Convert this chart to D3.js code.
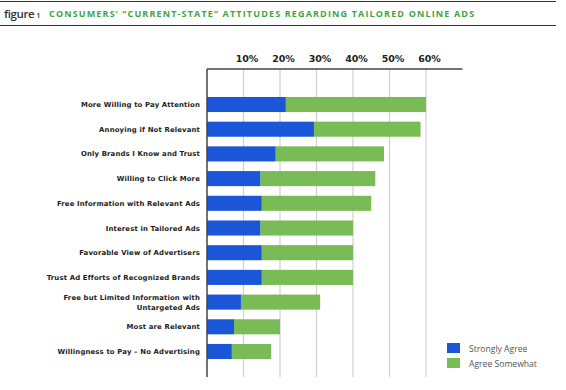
<!DOCTYPE html>
<html><head><meta charset="utf-8">
<script src="https://cdn.jsdelivr.net/npm/d3@7"></script>
<style>body{margin:0;background:#fff}svg{display:block}</style>
</head><body>
<svg id="c" width="566" height="390"></svg>
<script>
const categories = [
  "More Willing to Pay Attention",
  "Annoying if Not Relevant",
  "Only Brands I Know and Trust",
  "Willing to Click More",
  "Free Information with Relevant Ads",
  "Interest in Tailored Ads",
  "Favorable View of Advertisers",
  "Trust Ad Efforts of Recognized Brands",
  "Free but Limited Information with|Untargeted Ads",
  "Most are Relevant",
  "Willingness to Pay – No Advertising"
];
const stronglyAgree = [21.6, 29.3, 18.8, 14.6, 15.0, 14.6, 15.0, 15.0, 9.3, 7.4, 6.8];
const agreeSomewhat = [38.4, 29.2, 29.7, 31.5, 30.0, 25.4, 25.0, 25.0, 21.7, 12.6, 10.8];
const tickValues = [10, 20, 30, 40, 50, 60];
const seriesNames = ["Strongly Agree", "Agree Somewhat"];
const colors = ["#1c56d8", "#79bb55"];

const svg = d3.select("#c");
const x = d3.scaleLinear().domain([0, 70]).range([207, 462.5]);
const y = d3.scaleBand().domain(categories).range([92.15, 363.85]).paddingInner(0.39).paddingOuter(0.195);
const plotTop = 69, plotBottom = 377;

// Title
svg.append("line").attr("x1", 0).attr("x2", 556).attr("y1", 1.5).attr("y2", 1.5).attr("stroke", "#333").attr("stroke-width", 1.2);
svg.append("line").attr("x1", 0).attr("x2", 556).attr("y1", 25.5).attr("y2", 25.5).attr("stroke", "#333").attr("stroke-width", 1.2);
const t = svg.append("text").attr("x", 4).attr("y", 17.5).attr("font-family", "Open Sans, sans-serif");
t.append("tspan").text("figure").attr("font-size", 11.5).attr("font-weight", 600).attr("fill", "#333").attr("letter-spacing", -0.4);
t.append("tspan").text(" 1").attr("font-size", 7.5).attr("font-weight", 600).attr("fill", "#333");
svg.append("text").attr("x", 49).attr("y", 17).attr("font-family", "Open Sans, sans-serif")
  .attr("font-weight", "bold").attr("font-size", 9).attr("fill", "#3fa543").attr("letter-spacing", 1.15)
  .text("CONSUMERS’ “CURRENT-STATE” ATTITUDES REGARDING TAILORED ONLINE ADS");

// Gridlines
svg.append("g").selectAll("line").data(tickValues).join("line")
  .attr("x1", d => x(d)).attr("x2", d => x(d)).attr("y1", plotTop).attr("y2", plotBottom)
  .attr("stroke", "#cfcfcf").attr("stroke-width", 1.2);

// Tick labels via axis
const axis = d3.axisTop(x).tickValues(tickValues).tickFormat(d => d + "%").tickSize(0).tickPadding(0);
const ag = svg.append("g").attr("transform", `translate(3,${plotTop - 7})`).call(axis);
ag.select(".domain").remove();
ag.selectAll("text").attr("font-family", "DejaVu Sans, sans-serif").attr("font-weight", "bold")
  .attr("font-size", 9.5).attr("fill", "#222");

// Bars
const stacked = categories.map((c, i) => ({c, a: stronglyAgree[i], b: agreeSomewhat[i]}));
const bars = svg.append("g");
bars.selectAll("rect.b").data(stacked).join("rect").attr("class", "b")
  .attr("x", d => x(d.a)).attr("width", d => x(d.a + d.b) - x(d.a))
  .attr("y", d => y(d.c)).attr("height", y.bandwidth()).attr("fill", colors[1]);
bars.selectAll("rect.a").data(stacked).join("rect").attr("class", "a")
  .attr("x", x(0)).attr("width", d => x(d.a) - x(0))
  .attr("y", d => y(d.c)).attr("height", y.bandwidth()).attr("fill", colors[0]);

// Frame lines
svg.append("line").attr("x1", x(0)).attr("x2", x(70)).attr("y1", plotTop).attr("y2", plotTop).attr("stroke", "#444").attr("stroke-width", 1.3);
svg.append("line").attr("x1", x(0)).attr("x2", x(0)).attr("y1", plotTop).attr("y2", plotBottom).attr("stroke", "#444").attr("stroke-width", 1.5);

// Category labels
svg.append("g").selectAll("text").data(categories).join("text")
  .attr("x", 200).attr("text-anchor", "end")
  .attr("font-family", "DejaVu Sans, sans-serif").attr("font-weight", "bold").attr("font-size", 6.9)
  .attr("fill", "#222").attr("letter-spacing", 0.15)
  .each(function(d) {
    const parts = d.split("|");
    const cy = y(d) + y.bandwidth() / 2;
    const sel = d3.select(this);
    parts.forEach((p, k) => {
      sel.append("tspan").attr("x", 200)
        .attr("y", cy + 2.5 + (k - (parts.length - 1) / 2) * 10).text(p);
    });
  });

// Legend
const lg = svg.append("g");
seriesNames.forEach((s, i) => {
  lg.append("rect").attr("x", 447).attr("y", 343 + i * 15).attr("width", 13).attr("height", 10).attr("fill", colors[i]);
  lg.append("text").attr("x", 469).attr("y", 351.5 + i * 15).attr("font-family", "Open Sans, sans-serif")
    .attr("font-size", 8.6).attr("fill", "#555").text(s);
});
</script>
</body></html>
